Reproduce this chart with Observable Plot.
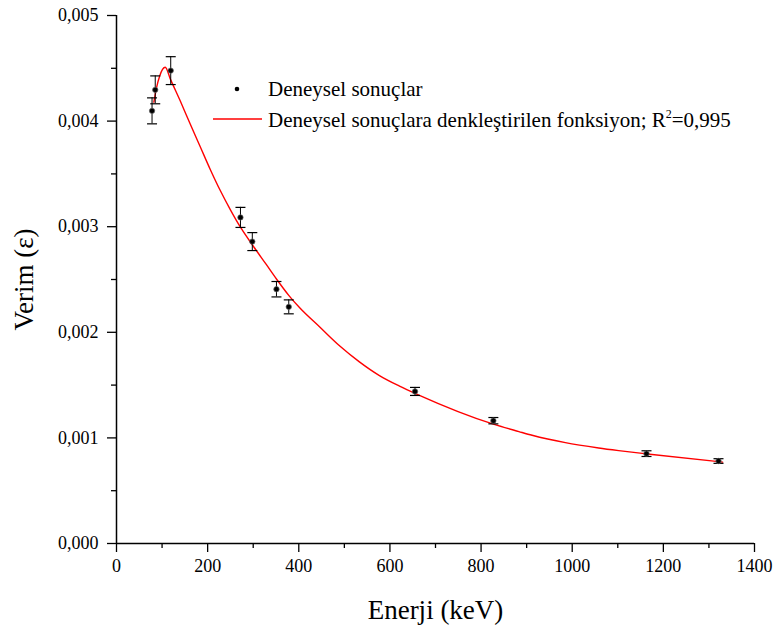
<!DOCTYPE html>
<html>
<head>
<meta charset="utf-8">
<script src="https://cdn.jsdelivr.net/npm/d3@7"></script>
<script src="https://cdn.jsdelivr.net/npm/@observablehq/plot@0.6"></script>
<style>
  body { margin: 0; background: #fff; }
  #wrap { position: relative; width: 778px; height: 635px; font-family: "Liberation Serif", "Times New Roman", serif; color: #000; }
  .lg-text { position: absolute; left: 268px; font-size: 21px; line-height: 24px; white-space: nowrap; font-family: "Liberation Serif", "Times New Roman", serif; }
  .lg-sym { position: absolute; left: 210px; width: 56px; height: 10px; overflow: visible; }
  sup { font-size: 12px; line-height: 0; vertical-align: 9px; }
</style>
</head>
<body>
<div id="wrap"></div>
<script>
// Measured data points (energy keV, efficiency, uncertainty)
const energies   = [78, 85, 119, 272, 298, 351, 378, 655, 827, 1163, 1321];
const efficiency = [0.004097, 0.004296, 0.004478, 0.003088, 0.002859, 0.002408, 0.002241, 0.00144, 0.001163, 0.000851, 0.000781];
const errors     = [0.000123, 0.000132, 0.000132, 0.000095, 0.000085, 0.000073, 0.000066, 0.000038, 0.00003, 0.000027, 0.000022];

// Fitted curve
const fitE   = [82, 88, 95, 101, 107, 118, 140, 162, 184, 206, 228, 250, 272, 301, 329, 351, 378, 402, 446, 490, 533, 577, 621, 661, 827, 883, 912, 985, 1058, 1102, 1160, 1321, 1330];
const fitEff = [0.00418, 0.00432, 0.00443, 0.00449, 0.00451, 0.00440, 0.00419, 0.00397, 0.003755, 0.00354, 0.00334, 0.00316, 0.002995, 0.00281, 0.00264, 0.002505, 0.00235, 0.002232, 0.00205, 0.00187, 0.00172, 0.00159, 0.00149, 0.00141, 0.00113, 0.00106, 0.001025, 0.000955, 0.000905, 0.00088, 0.00085, 0.000775, 0.000771];

// Ticks
const xMajor = [0, 200, 400, 600, 800, 1000, 1200, 1400];
const xMinor = [100, 300, 500, 700, 900, 1100, 1300];
const yMajor = [0, 0.001, 0.002, 0.003, 0.004, 0.005];
const yMinor = [0.0005, 0.0015, 0.0025, 0.0035, 0.0045];

const xLabel = "Enerji (keV)";
const yLabel = "Verim (ε)";

const points = energies.map((x, i) => ({x, y: efficiency[i], e: errors[i]}));
const caps = points.flatMap(d => [{x: d.x, y: d.y - d.e}, {x: d.x, y: d.y + d.e}]);
const fit = fitE.map((x, i) => ({x, y: fitEff[i]}));

const capSymbol = {
  draw(ctx, size) {
    const r = Math.sqrt(size / Math.PI);
    ctx.moveTo(-r, 0);
    ctx.lineTo(r, 0);
  }
};

const fmtY = d => d3.format(".3f")(d).replace(".", ",");
const serif = "'Liberation Serif', 'Times New Roman', serif";

const chart = Plot.plot({
  width: 778,
  height: 635,
  marginLeft: 116,
  marginRight: 24,
  marginTop: 15,
  marginBottom: 92,
  style: {fontFamily: serif, fontSize: "18px", background: "transparent", color: "#000"},
  x: {domain: [0, 1400]},
  y: {domain: [0, 0.005]},
  marks: [
    Plot.axisX({ticks: xMajor, tickSize: 9, tickPadding: 7, tickFormat: d => String(d), label: null, fontSize: 18, fontFamily: serif, stroke: "#000", strokeWidth: 1.3}),
    Plot.axisX({ticks: xMinor, tickSize: 5, tickFormat: () => "", label: null, stroke: "#000", strokeWidth: 1.3}),
    Plot.axisY({ticks: yMajor, tickSize: 9, tickPadding: 9, tickFormat: fmtY, label: null, fontSize: 18, fontFamily: serif, stroke: "#000", strokeWidth: 1.3}),
    Plot.axisY({ticks: yMinor, tickSize: 5, tickFormat: () => "", label: null, stroke: "#000", strokeWidth: 1.3}),
    Plot.ruleX([0], {stroke: "#000", strokeWidth: 1.5}),
    Plot.ruleY([0], {stroke: "#000", strokeWidth: 1.5}),
    Plot.line(fit, {x: "x", y: "y", stroke: "#ff0000", strokeWidth: 1.4, curve: "monotone-x"}),
    Plot.ruleX(points, {x: "x", y1: d => d.y - d.e, y2: d => d.y + d.e, stroke: "#000", strokeWidth: 1}),
    Plot.dot(caps, {x: "x", y: "y", r: 5, symbol: capSymbol, stroke: "#000", fill: "none", strokeWidth: 1.2}),
    Plot.dot(points, {x: "x", y: "y", r: 2.7, fill: "#000", stroke: "#666", strokeWidth: 0.7}),
    Plot.text([xLabel], {frameAnchor: "bottom", lineAnchor: "middle", textAnchor: "middle", dy: 67, fontSize: 27, fontFamily: serif, fill: "#000"}),
    Plot.text([yLabel], {frameAnchor: "left", lineAnchor: "middle", textAnchor: "middle", dx: -92, rotate: -90, fontSize: 27, fontFamily: serif, fill: "#000"})
  ]
});

const wrap = document.getElementById("wrap");
wrap.appendChild(chart);

// Legend overlay
const legend = document.createElement("div");
legend.innerHTML = `
  <svg class="lg-sym" style="top:84px;" viewBox="0 0 56 10"><circle cx="27" cy="5" r="2.3" fill="#000"></circle></svg>
  <div class="lg-text" style="top:77px;">Deneysel sonuçlar</div>
  <svg class="lg-sym" style="top:114px;" viewBox="0 0 56 10"><line x1="3" x2="52" y1="5" y2="5" stroke="#ff0000" stroke-width="1.5"></line></svg>
  <div class="lg-text" style="top:108px;">Deneysel sonuçlara denkleştirilen fonksiyon; R<sup>2</sup>=0,995</div>
`;
wrap.appendChild(legend);
</script>
</body>
</html>
